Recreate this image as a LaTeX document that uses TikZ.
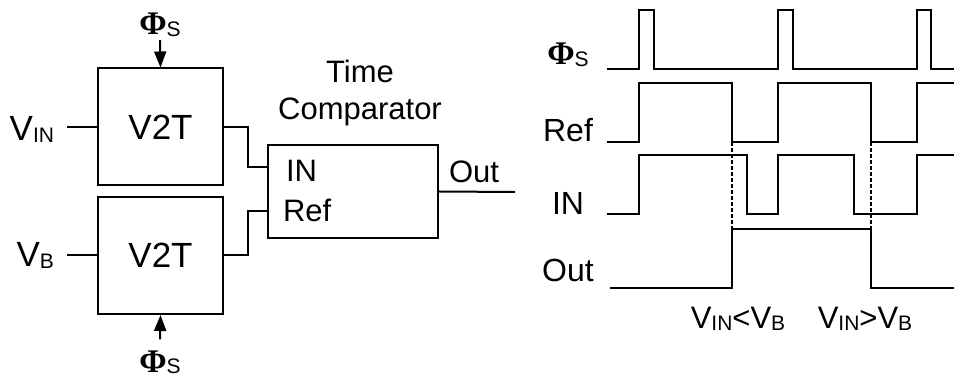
\documentclass[tikz,border=0pt]{standalone}
\usepackage{fontspec}
\setmainfont{Liberation Sans}
\newfontfamily\phifont{Liberation Serif}
\usepackage{tikz}
\usetikzlibrary{arrows.meta,positioning}

\newcommand{\lo}[1]{\raisebox{-1pt}{\fontsize{10.5}{12}\selectfont #1}}
\newcommand{\phis}{{\phifont\bfseries\fontsize{16.5}{18}\selectfont Φ}\lo{S}}

\begin{document}
\begin{tikzpicture}[
  x=0.5pt, y=-0.5pt, line width=1pt,
  blk/.style={rectangle, draw, minimum width=62.5pt, minimum height=58.5pt,
    font=\fontsize{17.5}{20}\selectfont},
  cmpbox/.style={rectangle, draw, minimum width=85pt, minimum height=46.5pt},
  pin/.style={inner sep=1pt, font=\fontsize{17.5}{20}\selectfont},
  lbl/.style={inner sep=1pt, font=\fontsize{15.5}{18.5}\selectfont},
  sig/.style={inner sep=1pt, font=\fontsize{16}{19}\selectfont},
  clk/.style={-{Triangle[length=8pt,width=6pt]}},
  edge/.style={line width=1.2pt, dash pattern=on 2pt off 1pt},
]
  \useasboundingbox (0,0) rectangle (954,379);

  % block diagram
  \node[blk] (v2ta) at (160.5,127) {V2T};
  \node[blk] (v2tb) at (160.5,255.5) {V2T};
  \node[cmpbox] (cmp) at (353,191.5) {};
  \node[lbl, align=center, anchor=south] (ttl) at (360,129) {Time\\Comparator};
  \node[lbl, anchor=base west] (cin) at (283,182) {IN};
  \node[lbl, anchor=base west] (cref) at (280,222) {Ref};

  \node[pin, anchor=base east] (vin) at (57,141) {V\lo{IN}};
  \node[pin, anchor=base east] (vb) at (57,267) {V\lo{B}};
  \node[inner sep=1pt, anchor=base] (phia) at (160,35) {\phis};
  \node[inner sep=1pt, anchor=base] (phib) at (160,372) {\phis};

  \draw ([xshift=5pt]vin.east |- v2ta.west) -- (v2ta.west);
  \draw ([xshift=5pt]vb.east |- v2tb.west) -- (v2tb.west);
  \draw[clk] (phia.south) -- (v2ta.north);
  \draw[clk] ([yshift=4pt]phib.north) -- (v2tb.south);
  \draw (v2ta.east) -- ++(12pt,0) |- ([yshift=12pt]cmp.west);
  \draw (v2tb.east) -- ++(12pt,0) |- ([yshift=-10pt]cmp.west);

  \coordinate (outend) at (515,192);
  \draw (cmp.east) -- (outend);
  \node[lbl, anchor=base] (outl) at (474,183) {Out};

  % timing diagram
  \node[sig] (tphi) at (568,55) {\phis};
  \node[sig] (tref) at (568,130) {Ref};
  \node[sig] (tin) at (568,203) {IN};
  \node[sig] (tout) at (568,270) {Out};

  \draw (607,69) -- (639,69) -- (639,10) -- (654,10) -- (654,69) -- (778,69)
    -- (778,10) -- (793,10) -- (793,69) -- (917,69) -- (917,10) -- (931,10)
    -- (931,69) -- (954,69);
  \draw (607,142) -- (639,142) -- (639,83) -- (732,83) -- (732,142) -- (778,142)
    -- (778,83) -- (871,83) -- (871,142) -- (917,142) -- (917,83) -- (954,83);
  \draw[line width=1.3pt] (607,214) -- (639,214) -- (639,155) -- (747,155) -- (747,214)
    -- (778,214) -- (778,155) -- (854,155) -- (854,214) -- (917,214) -- (917,155)
    -- (954,155);
  \draw (610,288) -- (732,288) -- (732,229) -- (871,229) -- (871,288) -- (954,288);
  \draw[edge] (732,142) -- (732,229);
  \draw[edge] (871,142) -- (871,229);

  \node[lbl] (lt) at (738,319) {V\lo{IN}<V\lo{B}};
  \node[lbl] (gt) at (865,319) {V\lo{IN}>V\lo{B}};
\end{tikzpicture}
\end{document}
